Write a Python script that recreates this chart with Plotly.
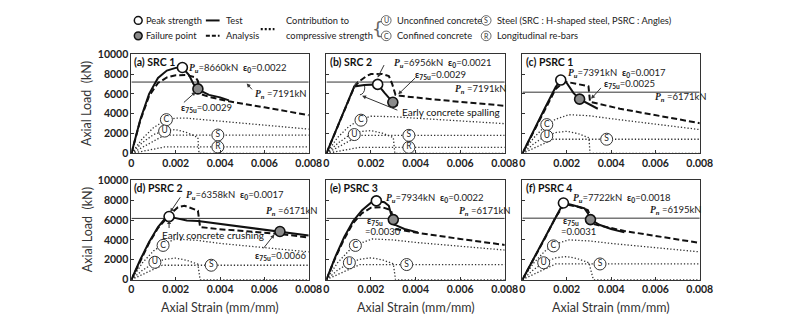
import plotly.graph_objects as go

# ---------------- data ----------------
strain_ticks = [0, 0.002, 0.004, 0.006, 0.008]
strain_tick_text = ['0', '0.002', '0.004', '0.006', '0.008']
load_ticks = [0, 2000, 4000, 6000, 8000, 10000]
load_tick_text = ['0', '2000', '4000', '6000', '8000', '10000']

panel_titles = ['(a) SRC 1', '(b) SRC 2', '(c) PSRC 1', '(d) PSRC 2', '(e) PSRC 3', '(f) PSRC 4']

# (a) SRC 1
a_test_x = [0, 0.0004, 0.0008, 0.0012, 0.0016, 0.002, 0.0023, 0.0026, 0.0028, 0.003, 0.0035, 0.004, 0.0044]
a_test_y = [0, 3400, 6000, 7600, 8350, 8620, 8660, 7900, 7000, 6450, 5900, 5650, 5350]
a_ana_x = [0, 0.0004, 0.0008, 0.0012, 0.0016, 0.002, 0.0025, 0.0029, 0.003, 0.0031, 0.0035, 0.0044, 0.006, 0.008]
a_ana_y = [0, 3300, 5800, 7100, 7650, 7880, 7900, 7650, 7300, 6000, 5700, 5250, 4650, 3850]
a_c_x = [0, 0.0005, 0.001, 0.0015, 0.002, 0.0025, 0.003, 0.004, 0.006, 0.008]
a_c_y = [0, 1500, 2600, 3300, 3550, 3550, 3450, 3250, 2850, 2450]
a_u_x = [0, 0.0005, 0.001, 0.0015, 0.002, 0.0025, 0.003, 0.00305, 0.008]
a_u_y = [0, 1100, 1900, 2300, 2400, 2100, 1600, 0, 0]
a_s_x = [0, 0.0015, 0.008]
a_s_y = [0, 1850, 1850]
a_r_x = [0, 0.0015, 0.008]
a_r_y = [0, 650, 650]

# (b) SRC 2
b_test_x = [0, 0.0006, 0.00125, 0.0017, 0.0023, 0.0026, 0.00298, 0.0032]
b_test_y = [0, 3250, 6750, 6900, 6956, 6120, 5150, 4820]
b_ana_x = [0, 0.0006, 0.00125, 0.0015, 0.0018, 0.002, 0.0025, 0.0028, 0.00295, 0.0031, 0.0033, 0.005, 0.008]
b_ana_y = [0, 3200, 6700, 7300, 7800, 8000, 8000, 7800, 7000, 5900, 5800, 5400, 4800]
b_c_x = [0, 0.0005, 0.001, 0.0015, 0.002, 0.003, 0.004, 0.006, 0.008]
b_c_y = [0, 1600, 2700, 3400, 3750, 3700, 3550, 3300, 3000]
b_u_x = [0, 0.0005, 0.001, 0.0015, 0.002, 0.0025, 0.003, 0.00307, 0.008]
b_u_y = [0, 1000, 1800, 2200, 2300, 2050, 1600, 0, 0]
b_s_x = [0, 0.0015, 0.008]
b_s_y = [0, 1820, 1820]
b_r_x = [0, 0.0015, 0.008]
b_r_y = [0, 610, 610]

# (c) PSRC 1
c_test_x = [0, 0.0005, 0.001, 0.0015, 0.00173, 0.002, 0.0023, 0.00258, 0.003, 0.0034]
c_test_y = [0, 2300, 4500, 6700, 7391, 7100, 6100, 5470, 5000, 4500]
c_ana_x = [0, 0.0005, 0.001, 0.0015, 0.0019, 0.0025, 0.00298, 0.00305, 0.0044, 0.008]
c_ana_y = [0, 2200, 4300, 6500, 7250, 7000, 6770, 5200, 4500, 3050]
c_c_x = [0, 0.0005, 0.001, 0.0015, 0.0021, 0.003, 0.004, 0.006, 0.008]
c_c_y = [0, 1550, 2700, 3450, 3900, 3800, 3500, 2950, 2400]
c_u_x = [0, 0.0005, 0.001, 0.0015, 0.002, 0.0025, 0.003, 0.00305, 0.008]
c_u_y = [0, 950, 1700, 2100, 2230, 2000, 1580, 0, 0]
c_s_x = [0, 0.0014, 0.008]
c_s_y = [0, 1430, 1430]

# (d) PSRC 2
d_test_x = [0, 0.0004, 0.0008, 0.0012, 0.0015, 0.0017, 0.002, 0.0025, 0.003, 0.004, 0.005, 0.0067, 0.008]
d_test_y = [0, 2000, 3800, 5300, 6100, 6358, 6200, 5950, 5900, 5600, 5300, 4850, 4450]
d_ana_x = [0, 0.0004, 0.0008, 0.0012, 0.0015, 0.0018, 0.0021, 0.0024, 0.003, 0.0031, 0.0039, 0.0067, 0.008]
d_ana_y = [0, 1900, 3700, 5200, 6000, 6700, 7300, 7450, 6950, 5300, 5100, 4600, 4250]
d_c_x = [0, 0.0005, 0.001, 0.0015, 0.002, 0.003, 0.004, 0.006, 0.008]
d_c_y = [0, 1700, 2900, 3650, 4100, 3950, 3650, 3200, 2800]
d_u_x = [0, 0.0005, 0.001, 0.0015, 0.002, 0.0025, 0.003, 0.0031, 0.008]
d_u_y = [0, 950, 1650, 2050, 2170, 1950, 1550, 0, 0]
d_s_x = [0, 0.0014, 0.008]
d_s_y = [0, 1450, 1450]

# (e) PSRC 3
e_test_x = [0, 0.0004, 0.0008, 0.0012, 0.0016, 0.002, 0.00224, 0.0026, 0.0028, 0.0029, 0.003, 0.0031, 0.0035, 0.0041]
e_test_y = [0, 2300, 4300, 5900, 7000, 7750, 7934, 7800, 7450, 6600, 6050, 5500, 5100, 4760]
e_ana_x = [0, 0.0004, 0.0008, 0.0012, 0.0016, 0.002, 0.0025, 0.0029, 0.0031, 0.004, 0.006, 0.008]
e_ana_y = [0, 2200, 4100, 5700, 6700, 7250, 7300, 7000, 5100, 4750, 4100, 3500]
e_c_x = [0, 0.0005, 0.001, 0.0015, 0.00206, 0.003, 0.004, 0.006, 0.008]
e_c_y = [0, 1700, 2900, 3650, 4100, 4000, 3750, 3350, 2980]
e_u_x = [0, 0.0005, 0.001, 0.0015, 0.002, 0.0025, 0.003, 0.0031, 0.008]
e_u_y = [0, 950, 1650, 2050, 2200, 2000, 1600, 0, 0]
e_s_x = [0, 0.0015, 0.008]
e_s_y = [0, 1520, 1520]

# (f) PSRC 4
f_test_x = [0, 0.0005, 0.001, 0.0015, 0.00185, 0.0022, 0.0028, 0.00295, 0.00307, 0.0035, 0.004, 0.0046]
f_test_y = [0, 2100, 4200, 6400, 7722, 7550, 7180, 6700, 6050, 5500, 5100, 4760]
f_ana_x = [0, 0.0005, 0.001, 0.0015, 0.0019, 0.0025, 0.00295, 0.0032, 0.0046, 0.008]
f_ana_y = [0, 2000, 4100, 6300, 7600, 7350, 7020, 5600, 4900, 3700]
f_c_x = [0, 0.0005, 0.001, 0.0015, 0.0021, 0.003, 0.004, 0.006, 0.008]
f_c_y = [0, 1650, 2850, 3600, 4010, 3900, 3650, 3200, 2800]
f_u_x = [0, 0.0005, 0.001, 0.0015, 0.002, 0.0025, 0.003, 0.0032, 0.008]
f_u_y = [0, 1000, 1750, 2200, 2330, 2100, 1700, 0, 0]
f_s_x = [0, 0.0015, 0.008]
f_s_y = [0, 1580, 1580]

peak_x = [0.0023, 0.0023, 0.00173, 0.0017, 0.00224, 0.00185]
peak_y = [8660, 6956, 7391, 6358, 7934, 7722]
fail_x = [0.0030, 0.00298, 0.00258, 0.0067, 0.0030, 0.00307]
fail_y = [6500, 5150, 5470, 4850, 6050, 6050]
pn_values = [7191, 7191, 6171, 6171, 6171, 6195]
pu_values = [8660, 6956, 7391, 6358, 7934, 7722]
eps0_values = ['0.0022', '0.0021', '0.0017', '0.0017', '0.0022', '0.0018']
eps75_values = ['0.0029', '0.0029', '0.0025', '0.0066', '0.0030', '0.0031']

# circled contribution labels: (letter, x, y)
label_pos = [
    [('C', 0.00158, 3400), ('U', 0.0015, 2250), ('S', 0.0039, 1850), ('R', 0.0039, 650)],
    [('C', 0.00155, 3350), ('U', 0.00125, 1900), ('S', 0.0037, 1820), ('R', 0.0037, 610)],
    [('C', 0.0011, 2900), ('U', 0.0011, 1750), ('S', 0.0038, 1430)],
    [('C', 0.00143, 3450), ('U', 0.00106, 1750), ('S', 0.0036, 1450)],
    [('C', 0.0013, 3450), ('U', 0.00103, 1700), ('S', 0.0036, 1520)],
    [('C', 0.0014, 3400), ('U', 0.00096, 1700), ('S', 0.0035, 1580)],
]

tests = [(a_test_x, a_test_y), (b_test_x, b_test_y), (c_test_x, c_test_y),
         (d_test_x, d_test_y), (e_test_x, e_test_y), (f_test_x, f_test_y)]
anas = [(a_ana_x, a_ana_y), (b_ana_x, b_ana_y), (c_ana_x, c_ana_y),
        (d_ana_x, d_ana_y), (e_ana_x, e_ana_y), (f_ana_x, f_ana_y)]
contribs = [
    [(a_c_x, a_c_y), (a_u_x, a_u_y), (a_s_x, a_s_y), (a_r_x, a_r_y)],
    [(b_c_x, b_c_y), (b_u_x, b_u_y), (b_s_x, b_s_y), (b_r_x, b_r_y)],
    [(c_c_x, c_c_y), (c_u_x, c_u_y), (c_s_x, c_s_y)],
    [(d_c_x, d_c_y), (d_u_x, d_u_y), (d_s_x, d_s_y)],
    [(e_c_x, e_c_y), (e_u_x, e_u_y), (e_s_x, e_s_y)],
    [(f_c_x, f_c_y), (f_u_x, f_u_y), (f_s_x, f_s_y)],
]

# ---------------- layout geometry ----------------
W, H = 800, 329
col_px = [(131, 312), (330, 512), (530, 711)]
row_px = [(50, 153), (181, 284)]

FONT = 'Lato, Calibri, Open Sans, sans-serif'
SERIF = 'Liberation Serif, DejaVu Serif, serif'
INK = '#222222'
DOT = '#333333'

fig = go.Figure()
layout = dict(width=W, height=H, margin=dict(l=0, r=0, t=0, b=0),
              paper_bgcolor='white', plot_bgcolor='rgba(0,0,0,0)', showlegend=False,
              font=dict(family=FONT, color=INK))
annotations = []
shapes = []

for i in range(6):
    r, c = divmod(i, 3)
    xn = 'x' if i == 0 else f'x{i+1}'
    yn = 'y' if i == 0 else f'y{i+1}'
    xk = 'xaxis' if i == 0 else f'xaxis{i+1}'
    yk = 'yaxis' if i == 0 else f'yaxis{i+1}'
    x0, x1 = col_px[c]
    y0, y1 = row_px[r]
    layout[xk] = dict(domain=[x0 / W, x1 / W], range=[0, 0.008], anchor=yn,
                      tickvals=strain_ticks, ticktext=strain_tick_text,
                      ticks='inside', ticklen=3, tickcolor='#333',
                      showline=True, linecolor='#333', linewidth=1, mirror=True,
                      showgrid=False, zeroline=False,
                      tickfont=dict(family=FONT, size=10.5, color=INK, weight='bold'))
    layout[yk] = dict(domain=[1 - y1 / H, 1 - y0 / H], range=[0, 10000], anchor=xn,
                      tickvals=load_ticks, ticktext=load_tick_text if c == 0 else ['']*6,
                      ticks='inside', ticklen=3, tickcolor='#333',
                      showline=True, linecolor='#333', linewidth=1, mirror=True,
                      showgrid=False, zeroline=False,
                      tickfont=dict(family=FONT, size=10.5, color=INK, weight='bold'))

    # contributions (dotted)
    for cx, cy in contribs[i]:
        fig.add_trace(go.Scatter(x=cx, y=cy, mode='lines', xaxis=xn, yaxis=yn,
                                 line=dict(color=DOT, width=1.3, dash='1.3px,2px'), hoverinfo='skip'))
    # Pn line
    fig.add_trace(go.Scatter(x=[0, 0.008], y=[pn_values[i], pn_values[i]], mode='lines',
                             xaxis=xn, yaxis=yn, line=dict(color='#333', width=1), hoverinfo='skip'))
    # analysis
    ax_, ay_ = anas[i]
    fig.add_trace(go.Scatter(x=ax_, y=ay_, mode='lines', xaxis=xn, yaxis=yn,
                             line=dict(color='#111', width=2, dash='6px,3px'), hoverinfo='skip'))
    # test
    tx, ty = tests[i]
    fig.add_trace(go.Scatter(x=tx, y=ty, mode='lines', xaxis=xn, yaxis=yn,
                             line=dict(color='#111', width=2), hoverinfo='skip'))
    # circled labels
    fig.add_trace(go.Scatter(x=[p[1] for p in label_pos[i]], y=[p[2] for p in label_pos[i]],
                             text=[p[0] for p in label_pos[i]], mode='markers+text',
                             textposition='middle center', xaxis=xn, yaxis=yn,
                             textfont=dict(size=8.5, color='#222', family=FONT),
                             marker=dict(size=12, color='white', line=dict(color='#333', width=1)),
                             hoverinfo='skip'))
    # peak & failure
    fig.add_trace(go.Scatter(x=[peak_x[i]], y=[peak_y[i]], mode='markers', xaxis=xn, yaxis=yn,
                             marker=dict(size=10, color='white', line=dict(color='#111', width=1.6)),
                             hoverinfo='skip'))
    fig.add_trace(go.Scatter(x=[fail_x[i]], y=[fail_y[i]], mode='markers', xaxis=xn, yaxis=yn,
                             marker=dict(size=10, color='#8a8a8a', line=dict(color='#111', width=1.6)),
                             hoverinfo='skip'))
    # panel title
    annotations.append(dict(x=0.00005, y=9990, xref=xn, yref=yn, text=f'<b>{panel_titles[i]}</b>',
                            showarrow=False, xanchor='left', yanchor='top',
                            font=dict(size=10.5, color='#111', family=FONT)))

def P(sub):
    return (f'<span style="font-family:{SERIF}"><b><i>P</i></b></span>'
            f'<sub><span style="font-family:{SERIF}"><b><i>{sub}</i></b></span></sub>')

def EPS(sub):
    return f'<b>ε<sub>{sub}</sub></b>'

# text annotation placements (data coords): pu text, pn text, eps75 text
pu_pos = [(0.00252, 8650), (0.00295, 9150), (0.00195, 8150), (0.00239, 8500), (0.00258, 8250), (0.00221, 8250)]
pn_pos = [(0.0055, 6000), (0.00566, 6450), (0.00588, 5650), (0.0060, 6950), (0.00588, 6950), (0.00566, 7050)]
eps_pos = [(0.00217, 4600), (0.0039, 7900), (0.00361, 6950), (0.00549, 2420), None, None]

FS = 9.5
for i in range(6):
    xn = 'x' if i == 0 else f'x{i+1}'
    yn = 'y' if i == 0 else f'y{i+1}'
    annotations.append(dict(x=pu_pos[i][0], y=pu_pos[i][1], xref=xn, yref=yn, showarrow=False,
                            xanchor='left', yanchor='middle', font=dict(size=FS, color=INK),
                            text=f'{P("u")}={pu_values[i]}kN  {EPS("0")}=' + eps0_values[i]))
    annotations.append(dict(x=pn_pos[i][0], y=pn_pos[i][1], xref=xn, yref=yn, showarrow=False,
                            xanchor='left', yanchor='middle', font=dict(size=FS, color=INK),
                            text=f'{P("n")} ={pn_values[i]}kN'))
    if eps_pos[i] is not None:
        annotations.append(dict(x=eps_pos[i][0], y=eps_pos[i][1], xref=xn, yref=yn, showarrow=False,
                                xanchor='left', yanchor='middle', font=dict(size=FS, color=INK),
                                text=f'{EPS("75u")}=' + eps75_values[i]))
    else:
        annotations.append(dict(x=0.00172, y=5900, xref=xn, yref=yn, showarrow=False,
                                xanchor='left', yanchor='middle', font=dict(size=FS, color=INK),
                                text=EPS('75u')))
        annotations.append(dict(x=0.00165, y=4850, xref=xn, yref=yn, showarrow=False,
                                xanchor='left', yanchor='middle', font=dict(size=FS, color=INK),
                                text='=' + eps75_values[i]))

# extra notes
annotations.append(dict(x=0.0033, y=4150, xref='x2', yref='y2', showarrow=False, xanchor='left',
                        text='Early concrete spalling', font=dict(size=10, color='#111')))
annotations.append(dict(x=0.0013, y=4500, xref='x4', yref='y4', showarrow=False, xanchor='left',
                        text='Early concrete crushing', font=dict(size=10, color='#111')))

# arrows: (axis idx, head x, head y, tail x, tail y)
arrows = [
    (0, 0.0029, 6200, 0.0023, 5000),
    (0, 0.0052, 7050, 0.0055, 6300),
    (1, 0.0023, 7650, 0.00262, 9050),
    (1, 0.00322, 5950, 0.00405, 7750),
    (1, 0.0016, 5800, 0.00325, 4300),
    (2, 0.0031, 5500, 0.0036, 6750),
    (3, 0.00175, 6800, 0.00225, 8450),
    (3, 0.0017, 6000, 0.0017, 5050),
    (3, 0.00645, 4550, 0.0059, 3000),
]
for k, hx, hy, tx_, ty_ in arrows:
    xn = 'x' if k == 0 else f'x{k+1}'
    yn = 'y' if k == 0 else f'y{k+1}'
    annotations.append(dict(x=hx, y=hy, ax=tx_, ay=ty_, xref=xn, yref=yn, axref=xn, ayref=yn,
                            text='', showarrow=True, arrowhead=2, arrowsize=0.8, arrowwidth=1,
                            arrowcolor='#333'))

# dashed ellipse in (b)
shapes.append(dict(type='circle', xref='x2', yref='y2', x0=0.00125, x1=0.00172, y0=5900, y1=7300,
                   line=dict(color='#333', width=1, dash='dash')))

# ---------------- legend / titles in pixel overlay ----------------
layout['xaxis7'] = dict(domain=[0, 1], range=[0, W], visible=False, fixedrange=True)
layout['yaxis7'] = dict(domain=[0, 1], range=[H, 0], visible=False, fixedrange=True)
fig.add_trace(go.Scatter(x=[0], y=[0], xaxis='x7', yaxis='y7', mode='markers',
                         marker=dict(size=1, color='rgba(0,0,0,0)'), hoverinfo='skip'))

def ptxt(x, y, t, size=9.3, anchor='left', angle=0, color='#222', fam=FONT):
    annotations.append(dict(x=x, y=y, xref='x7', yref='y7', text=t, showarrow=False,
                            xanchor=anchor, yanchor='middle', textangle=angle,
                            font=dict(size=size, color=color, family=fam)))

def pcircle(cx, cy, r, fill, lw=1.5, col='#111'):
    shapes.append(dict(type='circle', xref='x7', yref='y7', x0=cx - r, x1=cx + r, y0=cy - r, y1=cy + r,
                       fillcolor=fill, line=dict(color=col, width=lw)))

pcircle(138, 15, 4, 'white')
pcircle(138, 31, 4, '#8a8a8a')
ptxt(144, 15, 'Peak strength')
ptxt(144, 31, 'Failure point')
shapes.append(dict(type='line', xref='x7', yref='y7', x0=207, x1=221, y0=15, y1=15, line=dict(color='#111', width=2)))
shapes.append(dict(type='line', xref='x7', yref='y7', x0=207, x1=221, y0=31, y1=31, line=dict(color='#111', width=2, dash='4px,2px')))
ptxt(225, 15, 'Test')
ptxt(225, 31, 'Analysis')
shapes.append(dict(type='line', xref='x7', yref='y7', x0=263, x1=277, y0=24, y1=24, line=dict(color='#111', width=2.2, dash='2px,2px')))
ptxt(287, 15, 'Contribution to')
ptxt(287, 31, 'compressive strength')
ptxt(382, 23, '{', size=18, anchor='center', color='#666', fam='DejaVu Sans ExtraLight, DejaVu Sans')
for (lx, ly, letter, label) in [(391, 15, 'U', 'Unconfined concrete'), (391, 31, 'C', 'Confined concrete'),
                                (493, 15, 'S', 'Steel (SRC : H-shaped steel, PSRC : Angles)'),
                                (493, 31, 'R', 'Longitudinal re-bars')]:
    pcircle(lx, ly, 5, 'white', lw=0.8, col='#444')
    ptxt(lx, ly, letter, size=7, anchor='center', color='#333')
    ptxt(lx + 9, ly, label)

# axis titles
for yc in [(row_px[0][0] + row_px[0][1]) / 2, (row_px[1][0] + row_px[1][1]) / 2]:
    ptxt(86, yc, 'Axial Load  (kN)', size=12.5, anchor='center', angle=-90, color='#333')
for (x0, x1) in col_px:
    ptxt((x0 + x1) / 2, 313, 'Axial Strain (mm/mm)', size=12.5, anchor='center', color='#333')

layout['annotations'] = annotations
layout['shapes'] = shapes
fig.update_layout(**layout)
fig.write_html('out.html')
